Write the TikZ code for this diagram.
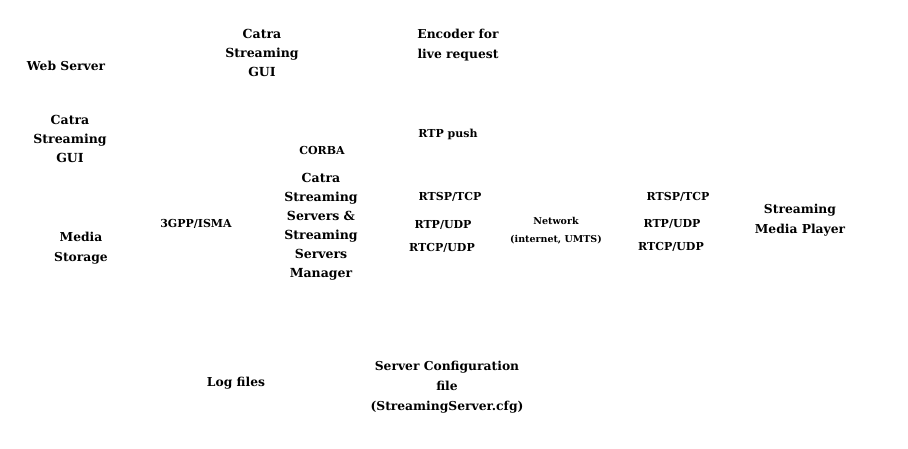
\documentclass[tikz,border=0pt]{standalone}
\usepackage{fontspec}
\setmainfont{DejaVu Serif}
\begin{document}
\begin{tikzpicture}[x=1pt,y=-1pt,
  lbl/.style={font=\fontsize{11}{20}\selectfont\bfseries, align=center, inner sep=0pt},
  big/.style={font=\fontsize{12.3}{20}\selectfont\bfseries, align=center, inner sep=0pt},
  tight/.style={font=\fontsize{12.5}{19}\selectfont\bfseries, align=center, inner sep=0pt},
  small/.style={font=\fontsize{9.5}{18}\selectfont\bfseries, align=center, inner sep=0pt}]
\useasboundingbox (0,0) rectangle (908,449);
\node[big] (web) at (66,66) {Web Server};
\node[tight] (guitop) at (262,53) {Catra\\Streaming\\GUI};
\node[big] (enc) at (458,45) {Encoder for\\live request};
\node[tight] (guileft) at (70,139) {Catra\\Streaming\\GUI};
\node[lbl] (corba) at (322,150) {CORBA};
\node[lbl] (push) at (448,134) {RTP push};
\node[tight] (srv) at (321,227) {Catra\\Streaming\\Servers \&\\Streaming\\Servers\\Manager};
\node[lbl] (isma) at (196,224) {3GPP/ISMA};
\node[big] (media) at (81,248) {Media\\Storage};
\node[lbl] (rtspl) at (450,197) {RTSP/TCP};
\node[lbl] (rtpl) at (443,225) {RTP/UDP};
\node[lbl] (rtcpl) at (442,248) {RTCP/UDP};
\node[small] (net) at (556,231) {Network\\(internet, UMTS)};
\node[lbl] (rtspr) at (678,197) {RTSP/TCP};
\node[lbl] (rtpr) at (672,224) {RTP/UDP};
\node[lbl] (rtcpr) at (671,247) {RTCP/UDP};
\node[big] (player) at (800,220) {Streaming\\Media Player};
\node[big] (log) at (236,383) {Log files};
\node[big] (cfg) at (447,387) {Server Configuration\\file\\(StreamingServer.cfg)};
\end{tikzpicture}
\end{document}
